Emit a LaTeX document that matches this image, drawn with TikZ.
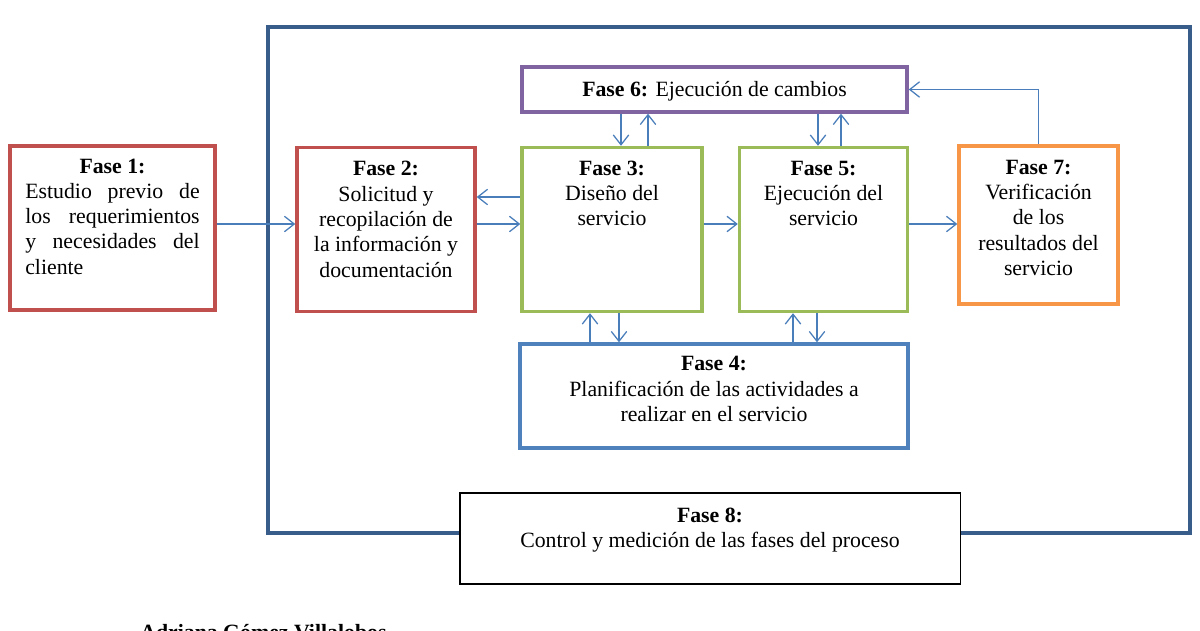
\documentclass[tikz,border=0pt]{standalone}
\usepackage{fontspec}
\setmainfont{Liberation Serif}
\usetikzlibrary{positioning,arrows.meta}
\definecolor{marco}{HTML}{385D8A}
\definecolor{rojo}{HTML}{C0504D}
\definecolor{verde}{HTML}{9BBB59}
\definecolor{morado}{HTML}{8064A2}
\definecolor{naranja}{HTML}{F79646}
\definecolor{azul}{HTML}{4F81BD}
\definecolor{flechaazul}{HTML}{4A7EBB}
\newcommand{\letra}{\fontsize{15.5}{18}\selectfont}
\tikzset{
  fase/.style={draw, line width=2.4pt, inner sep=0pt},
  rotulo/.style={align=center, inner sep=0pt, font=\letra},
  flecha/.style={draw=flechaazul, line width=0.9pt, -{Straight Barb[length=7pt,width=11pt,line width=0.9pt]}},
}
\begin{document}
\begin{tikzpicture}[x=0.025cm, y=-0.025cm]
\useasboundingbox (0,0) rectangle (1200,630);
\clip (0,0) rectangle (1200,630);
% marco del proceso
\node[draw=marco, line width=2.4pt, minimum width=23.05cm, minimum height=12.65cm] (marco) at (729,280) {};
% fases
\node[fase, draw=rojo, minimum width=5.125cm, minimum height=4.1cm] (f1) at (112.5,228) {};
\node[fase, draw=rojo, minimum width=4.45cm, minimum height=4.1cm] (f2) at (386,229.5) {};
\node[fase, draw=verde, minimum width=4.5cm, minimum height=4.1cm] (f3) at (612,229.5) {};
\node[fase, draw=verde, minimum width=4.2cm, minimum height=4.1cm] (f5) at (823.5,229.5) {};
\node[fase, draw=morado, minimum width=9.625cm, minimum height=1.125cm] (f6) at (714.5,89.5) {};
\node[fase, draw=naranja, minimum width=3.975cm, minimum height=3.95cm] (f7) at (1038.5,225) {};
\node[fase, draw=azul, minimum width=9.7cm, minimum height=2.6cm] (f4) at (714,396) {};
\node[fase, draw=black, line width=0.8pt, fill=white, minimum width=12.5cm, minimum height=2.275cm] (f8) at (710,538.5) {};
% textos
\node[inner sep=0pt, font=\letra, text width=124pt, align=justify, below=10pt of f1.north] (t1)
  {{\centering\textbf{Fase 1:}\par}Estudio previo de\linebreak los requerimientos\linebreak y necesidades del\linebreak cliente};
\node[rotulo, below=11pt of f2.north] (t2) {\textbf{Fase 2:}\\Solicitud y\\recopilación de\\la información y\\documentación};
\node[rotulo, below=10.5pt of f3.north] (t3) {\textbf{Fase 3:}\\Diseño del\\servicio};
\node[rotulo, below=10.5pt of f5.north] (t5) {\textbf{Fase 5:}\\Ejecución del\\servicio};
\node[rotulo] (t6) at ([yshift=-1.5pt]f6.center) {\textbf{Fase 6:} Ejecución de cambios};
\node[rotulo, below=11pt of f7.north] (t7) {\textbf{Fase 7:}\\Verificación\\de los\\resultados del\\servicio};
\node[rotulo, below=10pt of f4.north] (t4) {\textbf{Fase 4:}\\Planificación de las actividades a\\realizar en el servicio};
\node[rotulo, below=11pt of f8.north] (t8) {\textbf{Fase 8:}\\Control y medición de las fases del proceso};
\node[font=\letra\bfseries, inner sep=0pt, anchor=base west] (autor) at (140,639) {Adriana Gómez Villalobos};
% flechas horizontales
\draw[flecha] (f1.east |- 0,224) -- (f2.west |- 0,224);
\draw[flecha] (f3.west |- 0,197) -- (f2.east |- 0,197);
\draw[flecha] (f2.east |- 0,224) -- (f3.west |- 0,224);
\draw[flecha] (f3.east |- 0,224) -- (f5.west |- 0,224);
\draw[flecha] (f5.east |- 0,224) -- (f7.west |- 0,224);
\draw[flecha] (f7.north) |- (f6.east);
% flechas verticales
\draw[flecha] (621,0 |- f6.south) -- (621,0 |- f3.north);
\draw[flecha] (648,0 |- f3.north) -- (648,0 |- f6.south);
\draw[flecha] (818,0 |- f6.south) -- (818,0 |- f5.north);
\draw[flecha] (841,0 |- f5.north) -- (841,0 |- f6.south);
\draw[flecha] (590,0 |- f4.north) -- (590,0 |- f3.south);
\draw[flecha] (619,0 |- f3.south) -- (619,0 |- f4.north);
\draw[flecha] (793,0 |- f4.north) -- (793,0 |- f5.south);
\draw[flecha] (817,0 |- f5.south) -- (817,0 |- f4.north);
\end{tikzpicture}
\end{document}
